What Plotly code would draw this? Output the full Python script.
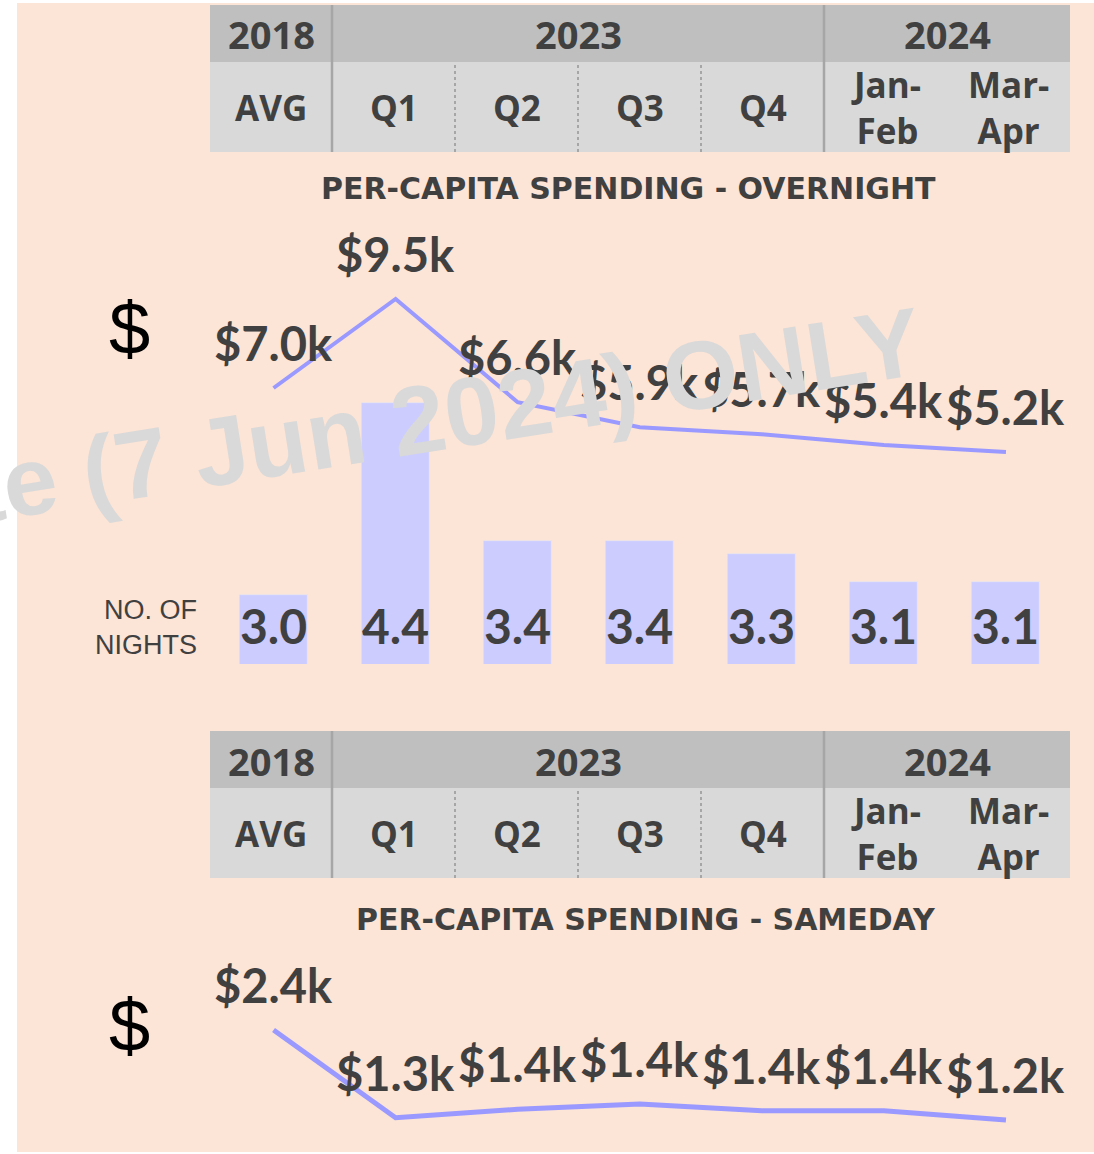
import plotly.graph_objects as go

# ---------------- data ----------------
periods = ["AVG", "Q1", "Q2", "Q3", "Q4", "Jan-<br>Feb", "Mar-<br>Apr"]
years = ["2018", "2023", "2024"]
overnight_spend_k = [7.0, 9.5, 6.6, 5.9, 5.7, 5.4, 5.2]
nights = [3.0, 4.4, 3.4, 3.4, 3.3, 3.1, 3.1]
sameday_spend_k = [2.40, 1.26, 1.37, 1.44, 1.35, 1.35, 1.23]
sameday_labels = ["2.4", "1.3", "1.4", "1.4", "1.4", "1.4", "1.2"]
title_overnight = "PER-CAPITA SPENDING - OVERNIGHT"
title_sameday = "PER-CAPITA SPENDING - SAMEDAY"
watermark = "te (7 Jun 2024) ONLY"

# ---------------- layout helpers ----------------
W, H = 1094, 1154
def px(x):
    return x / W
def py(y):
    return 1 - y / H

TXT = "#404040"
FONT = "Lato"
HFONT = "Open Sans"
TFONT = "DejaVu Sans"
BG = "#FCE4D6"
LINE = "#9999FF"
BAR = "#CCCCFF"
cats = list(range(len(periods)))

# table column edges (pixels)
col_edges = [210, 332, 455, 578, 701, 824, 947, 1070]
col_centers = [(a + b) / 2 for a, b in zip(col_edges[:-1], col_edges[1:])]
year_spans = [(210, 332), (332, 824), (824, 1070)]

fig = go.Figure()

fig.add_trace(go.Bar(x=cats, y=nights, marker_color=BAR, width=0.557,
                     yaxis="y2", hoverinfo="skip", showlegend=False))
fig.add_trace(go.Scatter(x=cats, y=overnight_spend_k, mode="lines",
                         line=dict(color=LINE, width=4), yaxis="y",
                         hoverinfo="skip", showlegend=False))
fig.add_trace(go.Scatter(x=cats, y=sameday_spend_k, mode="lines",
                         line=dict(color=LINE, width=5), yaxis="y3",
                         hoverinfo="skip", showlegend=False))

shapes = []
annotations = []

# background panel
shapes.append(dict(type="rect", xref="paper", yref="paper", x0=px(17), x1=px(1094),
                   y0=py(1152), y1=py(3), fillcolor=BG, line_width=0, layer="below"))

def header(top):
    r1_top, r1_bot, r2_bot = top, top + 57, top + 147
    shapes.append(dict(type="rect", xref="paper", yref="paper", x0=px(210), x1=px(1070),
                       y0=py(r1_bot), y1=py(r1_top), fillcolor="#BFBFBF",
                       line_width=0, layer="below"))
    shapes.append(dict(type="rect", xref="paper", yref="paper", x0=px(210), x1=px(1070),
                       y0=py(r2_bot), y1=py(r1_bot), fillcolor="#D9D9D9",
                       line_width=0, layer="below"))
    for xs in (332, 824):
        shapes.append(dict(type="line", xref="paper", yref="paper", x0=px(xs), x1=px(xs),
                           y0=py(r2_bot), y1=py(r1_top),
                           line=dict(color="#A6A6A6", width=2.5), layer="below"))
    for xs in (455, 578, 701):
        shapes.append(dict(type="line", xref="paper", yref="paper", x0=px(xs), x1=px(xs),
                           y0=py(r2_bot), y1=py(r1_bot),
                           line=dict(color="#A6A6A6", width=2, dash="dot"),
                           layer="below"))
    for yr, (a, b) in zip(years, year_spans):
        annotations.append(dict(x=px((a + b) / 2), y=py((r1_top + r1_bot) / 2 + 1),
                                xref="paper", yref="paper", text=f"<b>{yr}</b>",
                                showarrow=False,
                                font=dict(size=38, color=TXT, family=HFONT),
                                xanchor="center", yanchor="middle"))
    for p, c in zip(periods, col_centers):
        annotations.append(dict(x=px(c), y=py((r1_bot + r2_bot) / 2), xref="paper",
                                yref="paper", text=f"<b>{p}</b>", showarrow=False,
                                font=dict(size=35, color=TXT, family=HFONT),
                                xanchor="center", yanchor="middle"))

header(5)
header(731)

annotations.append(dict(x=px(938), y=py(189), xref="paper", yref="paper",
                        text=f"<b>{title_overnight}</b>", showarrow=False,
                        font=dict(size=30, color=TXT, family=TFONT),
                        xanchor="right", yanchor="middle"))
annotations.append(dict(x=px(938), y=py(919), xref="paper", yref="paper",
                        text=f"<b>{title_sameday}</b>", showarrow=False,
                        font=dict(size=30, color=TXT, family=TFONT),
                        xanchor="right", yanchor="middle"))

for yy in (328, 1025):
    annotations.append(dict(x=px(129), y=py(yy), xref="paper", yref="paper",
                            text="$", showarrow=False,
                            font=dict(size=74, color="black", family="Liberation Sans"),
                            xanchor="center", yanchor="middle"))

annotations.append(dict(x=px(199), y=py(627), xref="paper", yref="paper",
                        text="NO. OF<br>NIGHTS", showarrow=False, align="right",
                        font=dict(size=27, color=TXT, family="Liberation Sans"),
                        xanchor="right", yanchor="middle"))

for i, v in enumerate(nights):
    annotations.append(dict(x=i, y=2.5, xref="x", yref="y2", yshift=39,
                            text=f"<b>{v:.1f}</b>", showarrow=False,
                            font=dict(size=48, color=TXT, family=FONT),
                            xanchor="center", yanchor="middle"))

for i, v in enumerate(overnight_spend_k):
    annotations.append(dict(x=i, y=v, xref="x", yref="y", yshift=45,
                            text=f"<b>${v:.1f}k</b>", showarrow=False,
                            font=dict(size=47, color=TXT, family=FONT),
                            xanchor="center", yanchor="middle"))

for i, (v, lab) in enumerate(zip(sameday_spend_k, sameday_labels)):
    annotations.append(dict(x=i, y=v, xref="x", yref="y3", yshift=45,
                            text=f"<b>${lab}k</b>", showarrow=False,
                            font=dict(size=47, color=TXT, family=FONT),
                            xanchor="center", yanchor="middle"))

annotations.append(dict(x=px(445), y=py(415), xref="paper", yref="paper",
                        text=f"<b>{watermark}</b>", showarrow=False, textangle=-9,
                        font=dict(size=97, color="#D9D9D9", family="Liberation Sans"),
                        xanchor="center", yanchor="middle"))

fig.update_layout(
    width=W, height=H, margin=dict(l=0, r=0, t=0, b=0),
    paper_bgcolor="white", plot_bgcolor="rgba(0,0,0,0)",
    showlegend=False, bargap=0,
    xaxis=dict(domain=[px(212.5), px(1067)], range=[-0.5, 6.5], visible=False,
               fixedrange=True),
    yaxis=dict(domain=[py(470), py(250)], range=[4.697, 10.876], visible=False),
    yaxis2=dict(domain=[py(664), py(380)], range=[2.5, 4.571], visible=False),
    yaxis3=dict(domain=[py(1140), py(960)], range=[0.971, 3.309], visible=False),
    shapes=shapes, annotations=annotations,
)

fig.write_html("out.html", config={"displayModeBar": False},
               post_script="document.body.style.margin='0px';document.body.style.overflow='hidden';")
